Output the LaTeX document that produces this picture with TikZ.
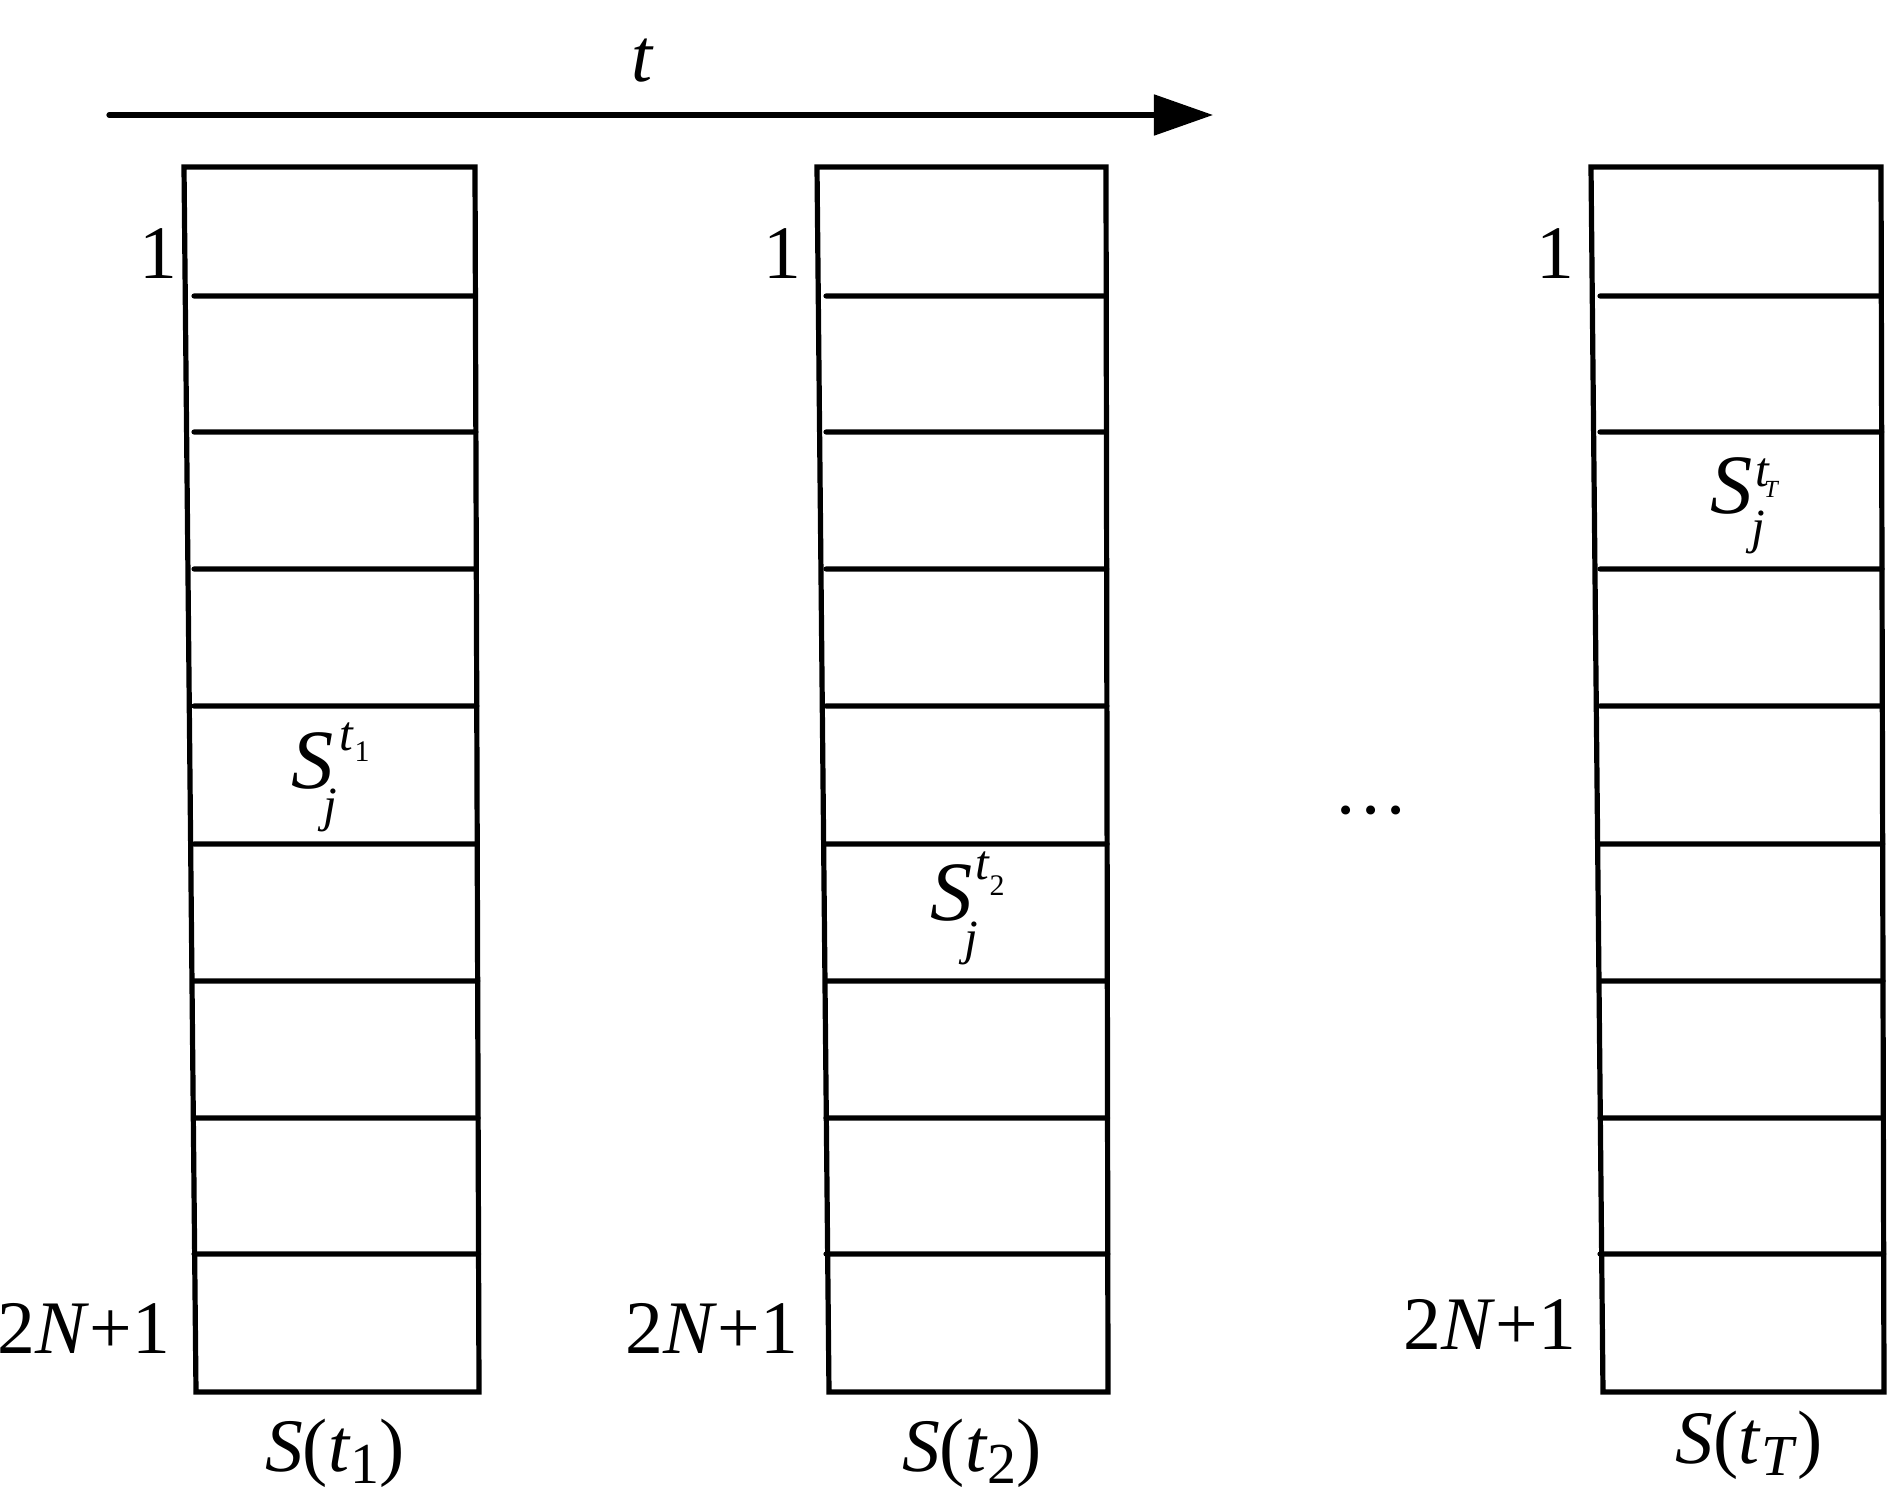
\documentclass[tikz,border=0pt]{standalone}
\usepackage{fontspec}
\setmainfont{Liberation Serif}
\usetikzlibrary{arrows.meta,calc}
\newcommand{\mainsz}{\fontsize{21.5}{26}\selectfont}
\newcommand{\cellsz}{\fontsize{24}{28}\selectfont}
\newcommand{\subsz}{\fontsize{16.5}{20}\selectfont}
\newcommand{\scrsz}{\fontsize{14}{17}\selectfont}
\newcommand{\sscrsz}{\fontsize{8.5}{10}\selectfont}
\newcommand{\tinysz}{\fontsize{7}{8}\selectfont}
% #1 j shift right, #2 j drop, #3 t shift right, #4 t raise, #5 sub drop, #6 sub kern, #7 sub text
\newcommand{\cellS}[7]{\rlap{\cellsz\textit{S}}\rlap{\kern#1\raisebox{-#2}{\scrsz\textit{j}}}\kern#3\raisebox{#4}{\scrsz\textit{t}\kern#6\raisebox{-#5}{#7}}}
\begin{document}
\begin{tikzpicture}[x=0.01cm,y=-0.01cm,line width=0.052cm,
  lbl/.style={inner sep=0pt,outer sep=0pt,anchor=base,font=\mainsz},
  celllbl/.style={inner sep=0pt,outer sep=0pt,anchor=base west,font=\cellsz},
  colbox/.style={line join=miter}]
\useasboundingbox (0,0) rectangle (1887,1500);
% time arrow
\coordinate (a0) at (109,115);
\coordinate (a1) at (1213,115);
\draw[line cap=round,-{Triangle[length=0.59cm,width=0.40cm]}] (a0) -- (a1);
\node[lbl] (tlabel) at (643,82) {\textit{t}};
% columns
\foreach \n/\xa/\xb/\xc/\xd/\xs in {1/184/475/479/196/194, 2/817/1106/1108/829/826, 3/1591/1881/1884/1603/1600}{
  \coordinate (c\n tl) at (\xa,167);
  \coordinate (c\n tr) at (\xb,167);
  \coordinate (c\n br) at (\xc,1392);
  \coordinate (c\n bl) at (\xd,1392);
  \draw[colbox] (c\n tl) -- (c\n tr) -- (c\n br) -- (c\n bl) -- cycle;
  \foreach \y in {296,432,569,706,844,981,1118,1254}{
    \draw[line cap=round] (\xs,\y) -- ($(c\n tr)!{(\y-167)/1225}!(c\n br)$);
  }
}
% row labels
\node[lbl] (one1) at (158,278) {1};
\node[lbl] (one2) at (782,278) {1};
\node[lbl] (one3) at (1555,278) {1};
\node[lbl] (last1) at (84,1353) {2\textit{N}+1};
\node[lbl] (last2) at (712,1353) {2\textit{N}+1};
\node[lbl] (last3) at (1490,1349) {2\textit{N}+1};
% column names
\node[lbl] (name1) at (335,1471) {\textit{S}(\textit{t}\raisebox{-0.16em}{\subsz 1})};
\node[lbl] (name2) at (972,1471) {\textit{S}(\textit{t}\raisebox{-0.16em}{\subsz 2})};
\node[lbl] (name3) at (1749,1463) {\textit{S}(\textit{t}\raisebox{-0.16em}{\subsz\textit{T}})};
% cell entries
\node[celllbl] (s1) at (291,788) {\cellS{9.1pt}{9.6pt}{13.9pt}{10.8pt}{3.4pt}{0pt}{\sscrsz 1}};
\node[celllbl] (s2) at (930,920) {\cellS{9.7pt}{9.9pt}{12.8pt}{11.4pt}{4.3pt}{0pt}{\sscrsz 2}};
\node[celllbl] (s3) at (1710,513) {\cellS{11.7pt}{8.8pt}{12.8pt}{7.4pt}{3.1pt}{-1.6pt}{\tinysz\textit{T}}};
% ellipsis
\node[lbl] (dots) at (1371,835) {\textperiodcentered\textperiodcentered\textperiodcentered};
\end{tikzpicture}
\end{document}
